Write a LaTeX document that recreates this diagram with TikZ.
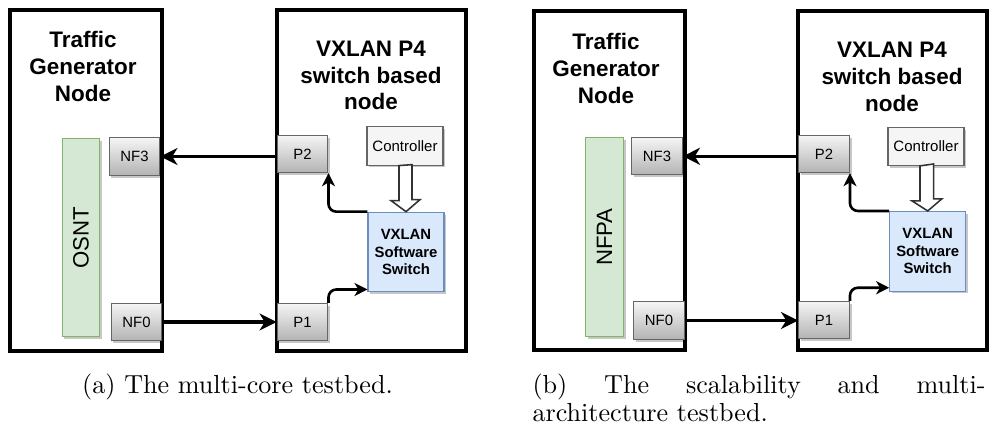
\documentclass[tikz,border=0pt]{standalone}
\usepackage{fontspec}
\usepackage{graphicx}
\usepackage{tikz}
\usetikzlibrary{arrows.meta}
\usetikzlibrary{shadows}
\newfontfamily\arial{Liberation Sans}
\definecolor{portTop}{HTML}{F5F5F5}
\definecolor{portBottom}{HTML}{B3B3B3}
\definecolor{portLine}{HTML}{666666}
\definecolor{genFill}{HTML}{D5E8D4}
\definecolor{genLine}{HTML}{82B366}
\definecolor{swFill}{HTML}{DAE8FC}
\definecolor{swLine}{HTML}{6C8EBF}

\begin{document}
\begin{tikzpicture}[x=0.383pt, y=-0.383pt,
    outer/.style={line width=1.2pt},
    soft/.style={drop shadow={shadow xshift=0.8pt, shadow yshift=-0.9pt, opacity=0.22, fill=black}},
    title/.style={font=\arial\bfseries\fontsize{8.6}{10.2}\selectfont, align=center, inner sep=0pt, anchor=north},
    port/.style={soft, draw=portLine, top color=portTop, bottom color=portBottom, font=\arial\fontsize{5.7}{6.7}\selectfont, minimum width=19.5pt, minimum height=14.3pt, inner sep=0pt},
    bar/.style={soft, draw=genLine, fill=genFill, font=\arial\fontsize{8.5}{10}\selectfont, minimum width=14.5pt, minimum height=76pt, inner sep=0pt},
    ctrl/.style={soft, draw=portLine, fill=portTop, font=\arial\fontsize{5.75}{6.7}\selectfont, minimum width=29.1pt, minimum height=14.6pt, inner sep=0pt},
    swbox/.style={soft, draw=swLine, fill=swFill, font=\arial\bfseries\fontsize{5.7}{6.7}\selectfont, align=center, minimum width=29.1pt, minimum height=30.5pt, inner sep=0pt},
    link/.style={line width=1.25pt, -{Stealth[length=6.5pt, width=6.5pt, inset=2pt]}},
    turn/.style={line width=1pt, rounded corners=3pt, -{Stealth[length=5pt, width=5pt, inset=1.5pt]}},
    hollow/.style={draw=black!80, fill=white, line width=0.6pt},
    capt/.style={font=\fontsize{10}{11}\selectfont, inner sep=0pt}]
    \useasboundingbox (0,0) rectangle (990,429);

    % (a) outer boxes
    \draw[outer] (10,10) rectangle (162,351);
    \draw[outer] (277,10) rectangle (466,351);
    \node[title] (tga) at (83,31) {Traffic\\Generator\\Node};
    \node[title] (p4a) at (371,40.5) {VXLAN P4\\switch based\\node};

    % (a) nodes
    \node[bar] (osnt) at (81,237.5) {\rotatebox{90}{OSNT}};
    \node[port] (nf3a) at (134.5,156.5) {NF3};
    \node[port] (nf0a) at (136.5,322) {NF0};
    \node[port] (p2a) at (302.5,154) {P2};
    \node[port] (p1a) at (302.5,322) {P1};
    \node[ctrl] (ctrla) at (405,146) {Controller};
    \node[swbox] (swa) at (406,252) {VXLAN\\Software\\Switch};

    % (a) connections
    \draw[link] (p2a.west |- nf3a.east) -- (nf3a.east);
    \draw[link] (nf0a.east) -- (nf0a.east -| p1a.west);
    \draw[turn] (swa.north west) -| (p2a.south east);
    \draw[turn] (p1a.north east) |- ([yshift=1.1pt]swa.south west);
    \draw[hollow] (ctrla.south) ++(-6,0) -- ++(0,35) -- ++(-8,0) -- (swa.north) -- ++(14,-12) -- ++(-8,0) -- ++(0,-35) -- cycle;

    \node[capt, anchor=base] (capa) at (237.5,393) {(a) The multi-core testbed.};

    % (b) outer boxes
    \draw[outer] (534,11) rectangle (685,350);
    \draw[outer] (798,11) rectangle (987,350);
    \node[title] (tgb) at (606,33) {Traffic\\Generator\\Node};
    \node[title] (p4b) at (892,42) {VXLAN P4\\switch based\\node};

    % (b) nodes
    \node[bar] (nfpa) at (604.5,237) {\rotatebox{90}{NFPA}};
    \node[port] (nf3b) at (657,156.3) {NF3};
    \node[port] (nf0b) at (659,320.5) {NF0};
    \node[port] (p2b) at (824,154) {P2};
    \node[port] (p1b) at (824,320) {P1};
    \node[ctrl] (ctrlb) at (926,146.3) {Controller};
    \node[swbox] (swb) at (927.7,251.3) {VXLAN\\Software\\Switch};

    % (b) connections
    \draw[link] (p2b.west |- nf3b.east) -- (nf3b.east);
    \draw[link] (nf0b.east) -- (nf0b.east -| p1b.west);
    \draw[turn] (swb.north west) -| (p2b.south east);
    \draw[turn] (p1b.north east) |- ([yshift=1.5pt]swb.south west);
    \draw[hollow] (ctrlb.south) ++(-6,0) -- ++(0,35) -- ++(-8,0) -- (swb.north) -- ++(14,-12) -- ++(-8,0) -- ++(0,-35) -- cycle;

    \node[capt, anchor=base west, text width=173.5pt, align=justify] (capb) at (532,393) {\tolerance=9999 (b) The scalability and multi-architecture testbed.};
\end{tikzpicture}
\end{document}
